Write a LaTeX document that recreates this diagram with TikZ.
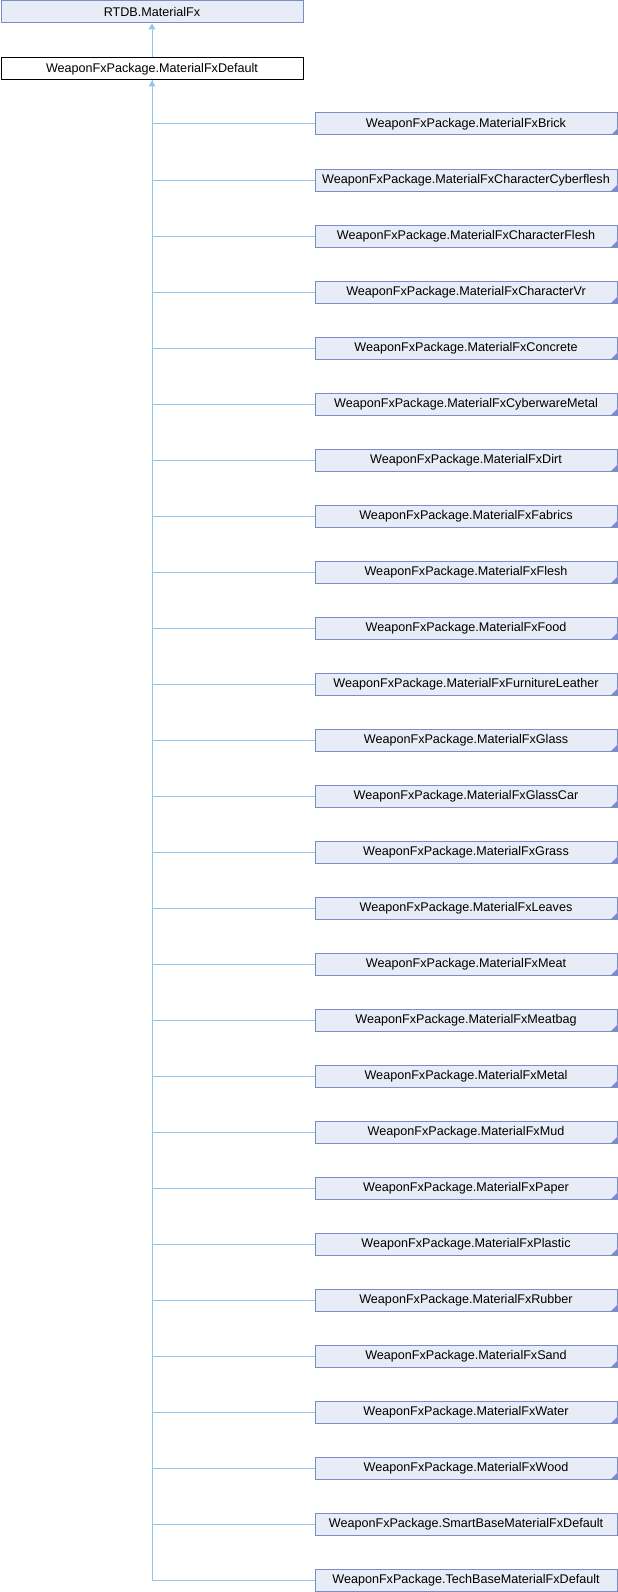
\documentclass[tikz,border=0pt]{standalone}
\usepackage{fontspec}
\setmainfont{Liberation Sans}
\usetikzlibrary{arrows.meta}
\definecolor{boxfill}{HTML}{E8ECF6}
\definecolor{boxline}{HTML}{7B8DC8}
\definecolor{edgecol}{HTML}{92C9EA}
\begin{document}
\begin{tikzpicture}[x=1pt,y=-1pt,
  cls/.style={draw=boxline, fill=boxfill, line width=1pt, minimum width=302pt,
    minimum height=22pt, inner sep=0pt, anchor=north west,
    font=\fontsize{12.6}{14}\selectfont},
  fold/.style={cls, path picture={\fill[boxline] (path picture bounding box.south east)
    -- ++(-6pt,0pt) -- ++(6pt,6pt) -- cycle;}},
  current/.style={cls, draw=black, fill=white},
  edge/.style={draw=edgecol, line width=1pt},
  inherit/.style={edge, {Triangle[length=6pt,width=7pt,fill=edgecol]}-}]
\useasboundingbox (0,0) rectangle (618,1592);

% base classes
\node[cls] (base) at (0.5,0.5) {RTDB.MaterialFx};
\node[current] (def) at (0.5,57.5) {WeaponFxPackage.MaterialFxDefault};
\draw[inherit] (base.south) -- (def.north);

% derived classes
\foreach \n [count=\i from 0] in {Brick,CharacterCyberflesh,CharacterFlesh,CharacterVr,
    Concrete,CyberwareMetal,Dirt,Fabrics,Flesh,Food,FurnitureLeather,Glass,GlassCar,
    Grass,Leaves,Meat,Meatbag,Metal,Mud,Paper,Plastic,Rubber,Sand,Water,Wood} {
  \node[fold] (c\i) at (314.5,112.5+56*\i) {WeaponFxPackage.MaterialFx\n};
}
\node[cls] (c25) at (314.5,112.5+56*25) {WeaponFxPackage.SmartBaseMaterialFxDefault};
\node[cls] (c26) at (314.5,112.5+56*26) {WeaponFxPackage.TechBaseMaterialFxDefault};

% inheritance connectors
\foreach \i in {0,...,25} {
  \draw[edge] (def.south) |- (c\i.west);
}
\draw[inherit] (def.south) |- (c26.west);
\end{tikzpicture}
\end{document}
